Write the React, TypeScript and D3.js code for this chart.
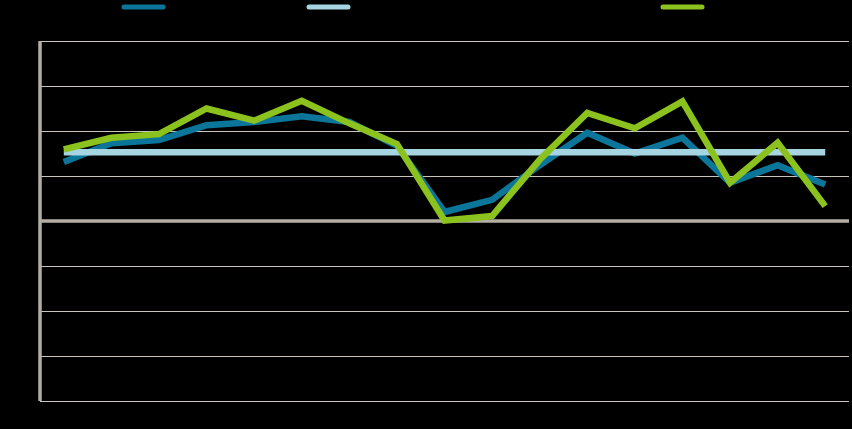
import { useEffect, useRef } from "react";
import * as d3 from "d3";

// 17 periods, names not legible in the reference (labels are black on black)
const periods = d3.range(17).map((i) => `P${i + 1}`);

// series values (grid step = 1)
const seriesA = [1.31, 1.73, 1.8, 2.13, 2.2, 2.33, 2.2, 1.67, 0.2, 0.47, 1.24, 1.96, 1.5, 1.85, 0.85, 1.24, 0.81];
const seriesB = d3.range(17).map(() => 1.53); // flat reference line
const seriesC = [1.59, 1.85, 1.93, 2.5, 2.23, 2.67, 2.17, 1.71, 0.01, 0.11, 1.36, 2.4, 2.06, 2.66, 0.85, 1.74, 0.33];

const yTicks = [-4, -3, -2, -1, 0, 1, 2, 3, 4];

const colors = { a: "#0b7699", b: "#a6d4e0", c: "#8cc21e" };

export default function App() {
  const ref = useRef<SVGSVGElement | null>(null);

  useEffect(() => {
    document.body.style.margin = "0";
    document.body.style.background = "#000";
    const svgEl = ref.current;
    if (!svgEl) return;

    const width = 852;
    const height = 429;
    const margin = { top: 41, right: 3, bottom: 28, left: 40 };

    const svg = d3.select(svgEl);
    svg.selectAll("*").remove();
    svg.attr("width", width).attr("height", height).style("background", "#000");

    const x = d3
      .scalePoint<string>()
      .domain(periods)
      .range([margin.left, width - margin.right])
      .padding(0.5);
    const y = d3
      .scaleLinear()
      .domain([-4, 4])
      .range([height - margin.bottom, margin.top]);

    // ------- grid -------
    svg
      .append("g")
      .selectAll("line")
      .data(yTicks.filter((t) => t !== 0))
      .enter()
      .append("line")
      .attr("x1", margin.left)
      .attr("x2", width - margin.right)
      .attr("y1", (d) => Math.round(y(d)) + 0.5)
      .attr("y2", (d) => Math.round(y(d)) + 0.5)
      .attr("stroke", "#c9c5bd")
      .attr("stroke-width", 1);

    // tick labels (black, as in the source)
    svg
      .append("g")
      .selectAll("text")
      .data(yTicks)
      .enter()
      .append("text")
      .attr("x", margin.left - 6)
      .attr("y", (d) => y(d))
      .attr("dy", "0.32em")
      .attr("text-anchor", "end")
      .attr("font-family", "Arial, Liberation Sans, sans-serif")
      .attr("font-size", 10)
      .attr("fill", "#000")
      .text((d) => d);

    // zero line + left axis
    svg
      .append("line")
      .attr("x1", margin.left)
      .attr("x2", width - margin.right)
      .attr("y1", y(0))
      .attr("y2", y(0))
      .attr("stroke", "#b5aea3")
      .attr("stroke-width", 3.5);
    svg
      .append("line")
      .attr("x1", margin.left)
      .attr("x2", margin.left)
      .attr("y1", y(4))
      .attr("y2", y(-4))
      .attr("stroke", "#b5aea3")
      .attr("stroke-width", 3.5);

    // ------- lines -------
    const line = d3
      .line<number>()
      .x((_, i) => x(periods[i])!)
      .y((d) => y(d));

    const series = [
      { key: "a", values: seriesA },
      { key: "b", values: seriesB },
      { key: "c", values: seriesC },
    ] as const;

    series.forEach((s) => {
      svg
        .append("path")
        .datum(s.values as unknown as number[])
        .attr("d", line)
        .attr("fill", "none")
        .attr("stroke", colors[s.key])
        .attr("stroke-width", 6.5)
        .attr("stroke-linejoin", "miter")
        .attr("stroke-linecap", "butt");
    });

    // ------- legend -------
    const legend = [
      { key: "a", x: 122 },
      { key: "b", x: 307 },
      { key: "c", x: 661 },
    ] as const;
    svg
      .append("g")
      .selectAll("line")
      .data(legend)
      .enter()
      .append("line")
      .attr("x1", (d) => d.x + 2)
      .attr("x2", (d) => d.x + 41)
      .attr("y1", 7)
      .attr("y2", 7)
      .attr("stroke", (d) => colors[d.key])
      .attr("stroke-width", 5)
      .attr("stroke-linecap", "round");
  }, []);

  return <svg ref={ref} style={{ display: "block" }} />;
}
